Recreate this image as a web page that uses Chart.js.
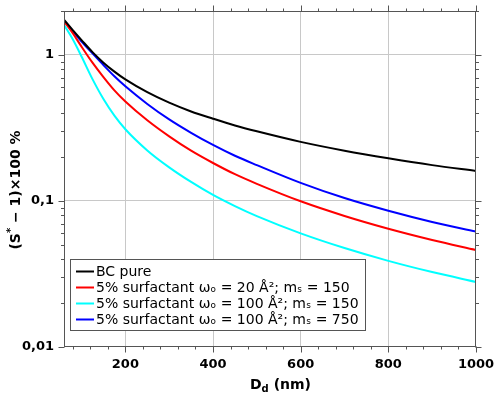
<!DOCTYPE html>
<html>
<head>
<meta charset="utf-8">
<script src="https://cdn.jsdelivr.net/npm/chart.js@4/dist/chart.umd.min.js"></script>
<style>
html,body{margin:0;padding:0;background:#fff;}
canvas{display:block;}
</style>
</head>
<body>
<canvas id="c" width="500" height="398"></canvas>
<script>
// ---- data ----
const dryDiameter = [60, 80, 100, 125, 150, 175, 200, 250, 300, 350, 400, 450, 500, 600, 700, 800, 900, 1000];
const bcPure      = [1.745, 1.479, 1.265, 1.046, 0.886, 0.769, 0.68, 0.556, 0.471, 0.410, 0.366, 0.329, 0.300, 0.254, 0.221, 0.196, 0.176, 0.1605];
const surf20_150  = [1.70, 1.41, 1.14, 0.885, 0.705, 0.572, 0.48, 0.357, 0.277, 0.221, 0.182, 0.1525, 0.131, 0.0995, 0.079, 0.0646, 0.0541, 0.0462];
const surf100_150 = [1.61, 1.28, 0.976, 0.683, 0.499, 0.384, 0.31, 0.222, 0.170, 0.135, 0.110, 0.0922, 0.0787, 0.060, 0.0476, 0.0389, 0.0326, 0.0279];
const surf100_750 = [1.72, 1.455, 1.235, 1.025, 0.852, 0.714, 0.61, 0.462, 0.362, 0.293, 0.242, 0.204, 0.176, 0.133, 0.1047, 0.0857, 0.0718, 0.0617];
const seriesLabels = [
  "BC pure",
  "5% surfactant \u03c9\u2092 = 20 \u00c5\u00b2; m\u209b = 150",
  "5% surfactant \u03c9\u2092 = 100 \u00c5\u00b2; m\u209b = 150",
  "5% surfactant \u03c9\u2092 = 100 \u00c5\u00b2; m\u209b = 750"
];
const xTicks = [200, 400, 600, 800, 1000];
const xTickLabels = ["200", "400", "600", "800", "1000"];
const yTicks = [0.01, 0.1, 1];
const yTickLabels = ["0,01", "0,1", "1"];
const xMinorTicks = [80,120,160,240,280,320,360,440,480,520,560,640,680,720,760,840,880,920,960];
const yMinorTicks = [0.02,0.03,0.04,0.05,0.06,0.07,0.08,0.09,0.2,0.3,0.4,0.5,0.6,0.7,0.8,0.9,2];

const colors = ["#000000", "#ff0000", "#00ffff", "#0000ff"];
const allSeries = [bcPure, surf20_150, surf100_150, surf100_750];

const FONT = "'DejaVu Sans', sans-serif";
const AXIS = "#555555";

const decor = {
  id: "decor",
  afterDraw(chart) {
    const ctx = chart.ctx;
    const a = chart.chartArea;
    const xs = chart.scales.x, ys = chart.scales.y;
    ctx.save();
    ctx.strokeStyle = AXIS;
    ctx.lineWidth = 1;
    const L = Math.round(a.left) + 0.5, R = Math.round(a.right) - 0.5;
    const T = Math.round(a.top) + 0.5, B = Math.round(a.bottom) - 0.5;
    ctx.strokeRect(L, T, R - L, B - T);
    ctx.beginPath();
    const xt = (v, len) => {
      const px = Math.round(xs.getPixelForValue(v)) + 0.5;
      ctx.moveTo(px, B); ctx.lineTo(px, B + len);
      ctx.moveTo(px, T); ctx.lineTo(px, T - len);
    };
    xMinorTicks.forEach(v => xt(v, 3));
    xTicks.forEach(v => xt(v, 6));
    const yt = (v, len) => {
      const py = Math.round(ys.getPixelForValue(v)) + 0.5;
      ctx.moveTo(L, py); ctx.lineTo(L - len, py);
      ctx.moveTo(R, py); ctx.lineTo(R + len, py);
    };
    yMinorTicks.forEach(v => yt(v, 3.5));
    yTicks.forEach(v => yt(v, 6));
    ctx.stroke();

    // x title: D_d (nm)
    ctx.fillStyle = "#000";
    ctx.textBaseline = "alphabetic";
    ctx.textAlign = "left";
    let x = 250, by = 389;
    ctx.font = "bold 14px " + FONT;
    ctx.fillText("D", x, by); x += ctx.measureText("D").width;
    ctx.font = "bold 10px " + FONT;
    ctx.fillText("d", x, by + 3); x += ctx.measureText("d").width;
    ctx.font = "bold 14px " + FONT;
    ctx.fillText(" (nm)", x, by);

    // y title: (S* − 1)×100 %
    ctx.save();
    ctx.translate(20, 190);
    ctx.rotate(-Math.PI / 2);
    const p1 = "(S", p2 = "*", p3 = " \u2212 1)\u00d7100 %";
    ctx.font = "bold 14px " + FONT; const w1 = ctx.measureText(p1).width, w3 = ctx.measureText(p3).width;
    ctx.font = "bold 10px " + FONT; const w2 = ctx.measureText(p2).width;
    let sx = -(w1 + w2 + w3) / 2;
    ctx.font = "bold 14px " + FONT; ctx.fillText(p1, sx, 0); sx += w1;
    ctx.font = "bold 10px " + FONT; ctx.fillText(p2, sx, -6); sx += w2;
    ctx.font = "bold 14px " + FONT; ctx.fillText(p3, sx, 0);
    ctx.restore();

    // legend
    ctx.font = "14px " + FONT;
    const ds = chart.data.datasets;
    let maxW = 0;
    ds.forEach(d => { maxW = Math.max(maxW, ctx.measureText(d.label).width); });
    const bx = 70.5, bt = 259.5, rowH = 16;
    const bw = Math.round(96 + maxW + 6 - 70);
    const bh = 71;
    ctx.fillStyle = "#fff";
    ctx.fillRect(bx, bt, bw, bh);
    ctx.strokeStyle = AXIS;
    ctx.strokeRect(bx, bt, bw, bh);
    ds.forEach((d, i) => {
      const cy = 271.5 + i * rowH;
      ctx.strokeStyle = d.borderColor;
      ctx.lineWidth = 2;
      ctx.beginPath(); ctx.moveTo(76, cy); ctx.lineTo(94, cy); ctx.stroke();
      ctx.fillStyle = "#000";
      ctx.textBaseline = "middle";
      ctx.fillText(d.label, 96, cy + 0.5);
    });
    ctx.restore();
  }
};

new Chart(document.getElementById("c"), {
  type: "line",
  data: {
    datasets: allSeries.map((s, i) => ({
      label: seriesLabels[i],
      data: dryDiameter.map((d, k) => ({ x: d, y: s[k] })),
      borderColor: colors[i],
      backgroundColor: colors[i],
      borderWidth: 2,
      pointRadius: 0,
      fill: false,
      cubicInterpolationMode: "monotone"
    }))
  },
  options: {
    responsive: false,
    animation: false,
    devicePixelRatio: 1,
    layout: { padding: { top: 11, right: 24, left: 0, bottom: 0 } },
    plugins: { legend: { display: false }, tooltip: { enabled: false } },
    scales: {
      x: {
        type: "linear", min: 60, max: 1000,
        afterBuildTicks: s => { s.ticks = xTicks.map(v => ({ value: v })); },
        afterFit: s => { s.height = 51; s.paddingLeft = 0; s.paddingRight = 0; },
        ticks: {
          callback: (v, i) => xTickLabels[i],
          font: { family: FONT, weight: "bold", size: 13 },
          color: "#000", padding: 10, maxRotation: 0, autoSkip: false
        },
        grid: {
          drawTicks: false,
          color: c => (c.tick && c.tick.value < 1000) ? "#c8c8c8" : "rgba(0,0,0,0)"
        },
        border: { display: false }
      },
      y: {
        type: "logarithmic", min: 0.01, max: 2,
        afterBuildTicks: s => { s.ticks = yTicks.map(v => ({ value: v })); },
        afterFit: s => { s.width = 64; s.paddingTop = 0; s.paddingBottom = 0; },
        ticks: {
          callback: (v, i) => yTickLabels[i],
          font: { family: FONT, weight: "bold", size: 13 },
          color: "#000", padding: 10, autoSkip: false
        },
        grid: {
          drawTicks: false,
          color: c => (c.tick && c.tick.value > 0.01) ? "#c8c8c8" : "rgba(0,0,0,0)"
        },
        border: { display: false }
      }
    }
  },
  plugins: [decor]
});
</script>
</body>
</html>
